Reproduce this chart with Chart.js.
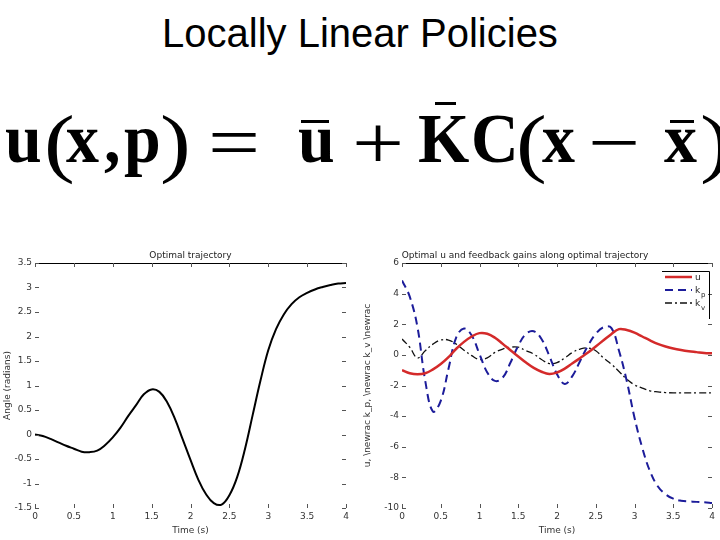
<!DOCTYPE html>
<html>
<head>
<meta charset="utf-8">
<script src="https://cdn.jsdelivr.net/npm/chart.js@4.4.1/dist/chart.umd.min.js"></script>
<style>
  body { margin: 0; width: 720px; height: 540px; background: #fff; position: relative; overflow: hidden; }
  #title { position: absolute; left: 0; top: 11px; width: 720px; text-align: center;
           font: 40px "Liberation Sans", Arial, sans-serif; color: #000; }
  #formula { position: absolute; left: 0; top: 106px; width: 720px; height: 68px;
             transform-origin: 0 57px; transform: scaleY(1.05); }
  #formula span { position: absolute; top: 0; font: bold 66px/68px "Liberation Serif", "Times New Roman", serif; white-space: pre; }
  #formula span.op { font-weight: normal; transform-origin: 0 0; transform: scaleX(1.4) scaleY(1.1); }
  .bar { position: absolute; height: 3px; background: #000; }
  canvas { position: absolute; top: 245px; }
</style>
</head>
<body>
<div id="title">Locally Linear Policies</div>
<div id="formula">
  <span style="left:5px">u</span>
  <span class="op" style="left:44px">(</span>
  <span style="left:66px">x</span>
  <span style="left:104px">,</span>
  <span style="left:124px">p</span>
  <span class="op" style="left:160px">)</span>
  <span class="op" style="left:208px">=</span>
  <span style="left:298px">u</span>
  <span class="op" style="left:352px">+</span>
  <span style="left:418px">K</span>
  <span style="left:471px">C</span>
  <span class="op" style="left:516px">(</span>
  <span style="left:542px">x</span>
  <span class="op" style="left:588px">−</span>
  <span style="left:664px">x</span>
  <span class="op" style="left:700px">)</span>
</div>
<div class="bar" style="left:301px;top:120px;width:28px"></div>
<div class="bar" style="left:435px;top:102px;width:21px"></div>
<div class="bar" style="left:670px;top:120px;width:24px"></div>

<canvas id="left" width="360" height="295" style="left:0"></canvas>
<canvas id="right" width="360" height="295" style="left:360px"></canvas>

<script>
// time samples (s)
const time = [0, 0.1, 0.2, 0.3, 0.4, 0.5, 0.6, 0.7, 0.8, 0.9, 1.0, 1.1, 1.2, 1.3, 1.4, 1.5, 1.6, 1.7, 1.8, 1.9, 2.0,
              2.1, 2.2, 2.3, 2.4, 2.5, 2.6, 2.7, 2.8, 2.9, 3.0, 3.1, 3.2, 3.3, 3.4, 3.5, 3.6, 3.7, 3.8, 3.9, 4.0];

// left: optimal trajectory, angle (radians)
const angle = [0, -0.03, -0.09, -0.16, -0.23, -0.29, -0.35, -0.36, -0.33, -0.22, -0.06, 0.14, 0.38, 0.6, 0.82, 0.92,
               0.87, 0.66, 0.32, -0.1, -0.52, -0.92, -1.22, -1.4, -1.43, -1.24, -0.87, -0.3, 0.4, 1.1, 1.72,
               2.15, 2.45, 2.66, 2.8, 2.89, 2.96, 3.01, 3.05, 3.08, 3.09];

// right: optimal u and feedback gains
const uOpt = [-1.0, -1.2, -1.27, -1.2, -0.95, -0.6, -0.15, 0.4, 0.85, 1.2, 1.42, 1.38, 1.12, 0.72, 0.3, -0.1,
              -0.5, -0.85, -1.1, -1.25, -1.15, -0.9, -0.55, -0.2, 0.15, 0.55, 0.95, 1.35, 1.68, 1.62, 1.45,
              1.2, 0.95, 0.72, 0.55, 0.42, 0.32, 0.24, 0.18, 0.12, 0.1];
const kP = [4.86, 3.8, 1.8, -1.7, -3.7, -3.0, -0.9, 1.15, 1.72, 1.26, 0.05, -1.15, -1.7, -1.48, -0.5, 0.6,
            1.37, 1.54, 1.04, -0.05, -1.26, -1.9, -1.37, -0.38, 0.6, 1.37, 1.8, 1.76, 0.27, -1.7, -4.1,
            -6.07, -7.6, -8.58, -9.1, -9.39, -9.52, -9.57, -9.6, -9.63, -9.67];
const kV = [1.04, 0.5, -0.2, 0.27, 0.7, 0.97, 0.97, 0.7, 0.3, -0.05, -0.3, -0.2, 0.16, 0.38, 0.5, 0.5,
            0.27, 0.05, -0.3, -0.57, -0.5, -0.2, 0.16, 0.38, 0.45, 0.27, -0.2, -0.6, -1.08, -1.58, -1.96,
            -2.17, -2.35, -2.42, -2.46, -2.48, -2.48, -2.48, -2.48, -2.48, -2.48];

const legendNames = ['u', 'k', 'k'];
const legendSubs = ['', 'p', 'v'];

const pts = vals => vals.map((v, i) => ({x: time[i], y: v}));
const tickFont = {family: '"DejaVu Sans", sans-serif', size: 9};

// MATLAB-ish frame: top line, inward ticks, small title
const frame = {
  id: 'frame',
  afterDatasetsDraw(chart, args, opts) {
    const {ctx, chartArea: a, scales: {x, y}} = chart;
    ctx.save();
    ctx.strokeStyle = '#000';
    ctx.lineWidth = 1;
    ctx.beginPath();
    ctx.moveTo(a.left, a.top + 0.5);
    ctx.lineTo(a.right, a.top + 0.5);
    ctx.stroke();
    ctx.strokeStyle = '#555';
    ctx.beginPath();
    x.ticks.forEach(t => {
      const px = Math.round(x.getPixelForValue(t.value)) + 0.5;
      ctx.moveTo(px, a.bottom); ctx.lineTo(px, a.bottom - 4);
      ctx.moveTo(px, a.top); ctx.lineTo(px, a.top + 4);
    });
    y.ticks.forEach(t => {
      const py = Math.round(y.getPixelForValue(t.value)) + 0.5;
      ctx.moveTo(a.left, py); ctx.lineTo(a.left + 4, py);
      ctx.moveTo(a.right, py); ctx.lineTo(a.right - 4, py);
    });
    ctx.stroke();
    ctx.fillStyle = '#222';
    ctx.font = '9px "DejaVu Sans", sans-serif';
    ctx.textAlign = 'center';
    ctx.fillText(opts.text, (a.left + a.right) / 2 + (opts.dx || 0), a.top - 5);

    if (opts.legend) {
      const right = a.right - 3, top = a.top + 8, bottom = a.top + 56;
      ctx.strokeStyle = '#000';
      ctx.beginPath();
      ctx.moveTo(right - 47, top + 0.5); ctx.lineTo(right + 0.5, top + 0.5); ctx.lineTo(right + 0.5, bottom);
      ctx.stroke();
      const rows = [top + 6, top + 19, top + 32];
      chart.data.datasets.forEach((ds, i) => {
        ctx.strokeStyle = ds.borderColor;
        ctx.lineWidth = ds.borderWidth;
        ctx.setLineDash(ds.borderDash || []);
        ctx.beginPath();
        ctx.moveTo(right - 44, rows[i]); ctx.lineTo(right - 17, rows[i]);
        ctx.stroke();
        ctx.setLineDash([]);
        ctx.fillStyle = '#222';
        ctx.textAlign = 'left';
        ctx.font = '9px "DejaVu Sans", sans-serif';
        ctx.fillText(legendNames[i], right - 14, rows[i] + 3);
        if (legendSubs[i]) {
          ctx.font = '7px "DejaVu Sans", sans-serif';
          ctx.fillText(legendSubs[i], right - 8, rows[i] + 7);
        }
      });
    }
    ctx.restore();
  }
};

function makeChart(id, datasets, yMin, yMax, yStep, yTitle, yWidth, padRight, title, dx, legend) {
  return new Chart(document.getElementById(id), {
    type: 'line',
    data: {datasets},
    options: {
      responsive: false,
      animation: false,
      layout: {padding: {top: 18, right: padRight, left: 0, bottom: 0}},
      elements: {point: {radius: 0}, line: {tension: 0.4, fill: false}},
      plugins: {
        legend: {display: false},
        tooltip: {enabled: false},
        frame: {text: title, dx, legend}
      },
      scales: {
        x: {
          type: 'linear', min: 0, max: 4,
          ticks: {stepSize: 0.5, font: tickFont, color: '#333', padding: 3, maxRotation: 0,
                  callback: v => String(v)},
          grid: {display: false, drawTicks: false},
          border: {display: false},
          title: {display: true, text: 'Time (s)', font: tickFont, color: '#333', padding: {top: 0, bottom: 4}},
          afterFit: s => { s.height = 32; }
        },
        y: {
          min: yMin, max: yMax,
          ticks: {stepSize: yStep, font: tickFont, color: '#333', padding: 3,
                  callback: v => String(v)},
          grid: {display: false, drawTicks: false},
          border: {display: false},
          title: {display: true, text: yTitle, font: tickFont, color: '#333', padding: {top: 2, bottom: 0}},
          afterFit: s => { s.width = yWidth; }
        }
      }
    },
    plugins: [frame]
  });
}

makeChart('left', [
  {data: pts(angle), borderColor: '#000', borderWidth: 2}
], -1.5, 3.5, 0.5, 'Angle (radians)', 35, 14, 'Optimal trajectory', 0, false);

makeChart('right', [
  {data: pts(uOpt), borderColor: '#d42a2a', borderWidth: 2.5},
  {data: pts(kP), borderColor: '#1c1c9a', borderWidth: 2, borderDash: [8, 5]},
  {data: pts(kV), borderColor: '#111', borderWidth: 1.3, borderDash: [7, 3, 2, 3]}
], -10, 6, 2, 'u, \\newrac k_p, \\newrac k_v \\newrac', 42, 8,
   'Optimal u and feedback gains along optimal trajectory', -32, true);
</script>
</body>
</html>
